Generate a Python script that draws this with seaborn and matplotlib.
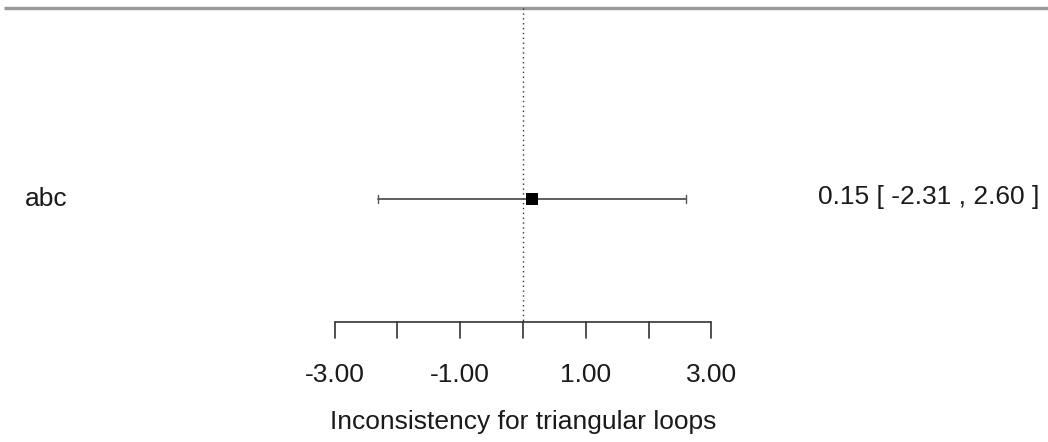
import matplotlib
matplotlib.use("Agg")
import matplotlib.pyplot as plt
import seaborn as sns
import pandas as pd

# data
labels = ["abc"]
estimates = [0.15]
ci_lower = [-2.31]
ci_upper = [2.60]
tick_values = [-3, -2, -1, 0, 1, 2, 3]
tick_labels = ["-3.00", "", "-1.00", "", "1.00", "", "3.00"]
xlabel = "Inconsistency for triangular loops"

sns.set_theme(style="white")
plt.rcParams["font.family"] = ["Liberation Sans", "DejaVu Sans"]

W, H = 1048, 442
FS = 19
TXT = "#1a1a1a"
fig = plt.figure(figsize=(W / 100, H / 100), dpi=100)
ax = fig.add_axes([0, 0, 1, 1])
ax.set_axis_off()

x0_px, unit_px = 523.0, 62.8
ax.set_xlim((0 - x0_px) / unit_px, (W - x0_px) / unit_px)
ax.set_ylim(H, 0)

row_y = [199]
axis_y = 322
top_y = 8

df = pd.DataFrame({"label": labels, "est": estimates, "lo": ci_lower,
                   "hi": ci_upper, "y": row_y})

# top line
ax.plot([(4 - x0_px) / unit_px, (W - x0_px) / unit_px], [top_y, top_y],
        color="#9a9a9a", lw=2.4, solid_capstyle="butt")
# reference line
ax.plot([0, 0], [top_y, axis_y], color="#333333", lw=1.0, ls=(0, (1, 2.5)))

# CIs
for _, r in df.iterrows():
    ax.plot([r.lo, r.hi], [r.y, r.y], color="#444444", lw=1.2)
    for xc in (r.lo, r.hi):
        ax.plot([xc, xc], [r.y - 4, r.y + 4], color="#555555", lw=1.0)
sns.scatterplot(data=df, x="est", y="y", marker="s", s=80, color="black",
                edgecolor="black", linewidth=0, ax=ax, zorder=5, legend=False)

for _, r in df.iterrows():
    ax.text((25 - x0_px) / unit_px, r.y + 7, r.label, ha="left", va="baseline",
            fontsize=FS, color=TXT)
    ax.text((1039 - x0_px) / unit_px, r.y + 5,
            f"{r.est:.2f} [ {r.lo:.2f} , {r.hi:.2f} ]",
            ha="right", va="baseline", fontsize=FS, color=TXT)

# x axis
ax.plot([tick_values[0], tick_values[-1]], [axis_y, axis_y], color="#333333", lw=1.2)
for tv, tl in zip(tick_values, tick_labels):
    ax.plot([tv, tv], [axis_y, axis_y + 16], color="#333333", lw=1.2)
    if tl:
        ax.text(tv, 382, tl, ha="center", va="baseline", fontsize=FS, color=TXT)
ax.text(0, 429, xlabel, ha="center", va="baseline", fontsize=FS, color=TXT)

fig.savefig("out.png", dpi=100)
